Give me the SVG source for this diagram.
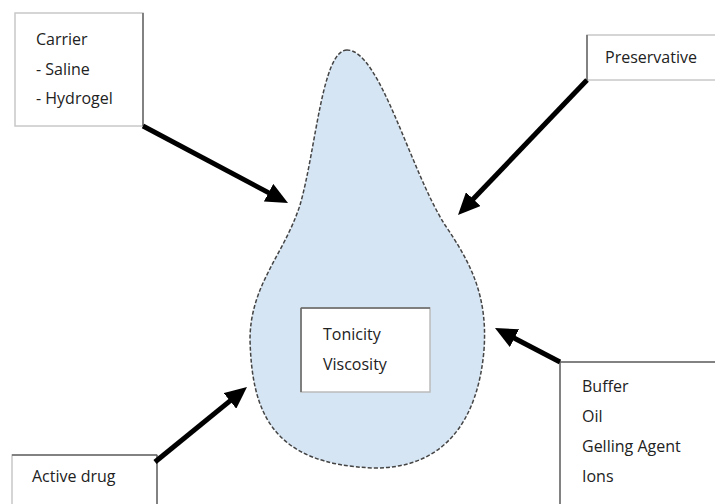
<svg xmlns="http://www.w3.org/2000/svg" width="715" height="504" viewBox="0 0 715 504">
<style>
.box{fill:#fff;stroke:#c8c8c8;stroke-width:1.5}
.edge{stroke:#666;stroke-width:1.5}
.t{font-family:"Open Sans","Noto Sans",sans-serif;font-size:16px;fill:#222}
.arr{stroke:#000;stroke-width:5;fill:none;marker-end:url(#ah)}
</style>
<defs>
<marker id="ah" markerUnits="userSpaceOnUse" markerWidth="22" markerHeight="20" refX="10" refY="10" orient="auto">
<path d="M0,0 L22,10 L0,20 z" fill="#000"/>
</marker>
</defs>
<rect width="715" height="504" fill="#fff"/>
<g id="drop">
<path d="M347,50 C322,50 316,150 300,205 C284,255 250,285 250,340 C252,410 270,465 375,468 C445,468 478,420 484,350 C488,295 470,262 445,225 C410,170 380,50 347,50 Z" fill="#d6e5f3" stroke="#444" stroke-width="1.5" stroke-dasharray="4 2"/>
</g>
<g id="center">
<rect x="301" y="308" width="129" height="84" fill="#fff" stroke="#bbb" stroke-width="1.5"/>
<line x1="301" y1="308" x2="430" y2="308" class="edge"/>
<line x1="301" y1="308" x2="301" y2="392" class="edge"/>
<text class="t" x="323" y="340">Tonicity</text>
<text class="t" x="323" y="370">Viscosity</text>
</g>
<g id="carrier">
<rect class="box" x="15" y="13" width="128" height="113"/>
<line x1="143" y1="13" x2="143" y2="126" class="edge"/>
<text class="t" x="36" y="45">Carrier</text>
<text class="t" x="36" y="75">- Saline</text>
<text class="t" x="36" y="104">- Hydrogel</text>
</g>
<g id="preservative">
<rect class="box" x="587" y="35" width="140" height="45"/>
<line x1="587" y1="35" x2="587" y2="80" class="edge"/>
<text class="t" x="605" y="63">Preservative</text>
</g>
<g id="active">
<rect class="box" x="12" y="455" width="145" height="60"/>
<line x1="12" y1="455" x2="157" y2="455" class="edge"/>
<line x1="157" y1="455" x2="157" y2="504" class="edge"/>
<text class="t" x="32" y="482">Active drug</text>
</g>
<g id="buffer">
<rect class="box" x="560" y="362" width="170" height="150"/>
<line x1="560" y1="362" x2="715" y2="362" class="edge"/>
<line x1="560" y1="362" x2="560" y2="504" class="edge"/>
<text class="t" x="582" y="392">Buffer</text>
<text class="t" x="582" y="422">Oil</text>
<text class="t" x="582" y="452">Gelling Agent</text>
<text class="t" x="582" y="482">Ions</text>
</g>
<g id="connectors">
<line class="arr" x1="143" y1="126" x2="277.4" y2="197.4"/>
<line class="arr" x1="587" y1="80" x2="466.3" y2="206.3"/>
<line class="arr" x1="155" y1="462" x2="237.7" y2="394.6"/>
<line class="arr" x1="560" y1="362" x2="505.6" y2="333.6"/>
</g>
</svg>
